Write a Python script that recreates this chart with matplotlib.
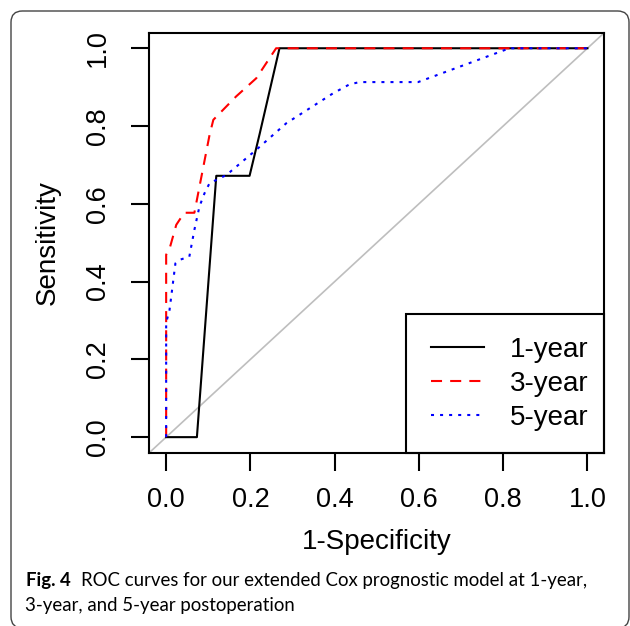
import matplotlib
matplotlib.use("Agg")
import matplotlib.pyplot as plt
from matplotlib.patches import FancyBboxPatch, Rectangle

# ROC points (1-specificity, sensitivity)
fpr_1y = [0.0, 0.073, 0.119, 0.198, 0.222, 0.269, 1.0]
tpr_1y = [0.0, 0.0, 0.672, 0.672, 0.78, 1.0, 1.0]

fpr_3y = [0.0, 0.0, 0.0095, 0.024, 0.043, 0.067, 0.103, 0.112, 0.166, 0.214, 0.261, 1.0]
tpr_3y = [0.0, 0.469, 0.49, 0.546, 0.577, 0.577, 0.777, 0.816, 0.876, 0.923, 1.0, 1.0]

fpr_5y = [0.0, 0.0, 0.008, 0.012, 0.022, 0.032, 0.055, 0.067, 0.079, 0.091, 0.103,
          0.143, 0.214, 0.285, 0.396, 0.435, 0.459, 0.598, 0.815, 1.0]
tpr_5y = [0.0, 0.294, 0.327, 0.361, 0.447, 0.456, 0.464, 0.533, 0.593, 0.627, 0.653,
          0.674, 0.739, 0.807, 0.884, 0.907, 0.913, 0.913, 1.0, 1.0]

labels = ["1-year", "3-year", "5-year"]
ticks = [0.0, 0.2, 0.4, 0.6, 0.8, 1.0]
caption_bold = "Fig. 4"
caption_1 = "ROC curves for our extended Cox prognostic model at 1-year,"
caption_2 = "3-year, and 5-year postoperation"

plt.rcParams["font.family"] = ["Liberation Sans", "DejaVu Sans"]

W, H = 630, 626
fig = plt.figure(figsize=(W / 100, H / 100), dpi=100)

# outer rounded box of the figure panel
box = FancyBboxPatch((11 / W, 1 - 628 / H), 618 / W, 617 / H,
                     boxstyle="round,pad=0,rounding_size=0.018",
                     transform=fig.transFigure, fill=False, ec="#444444", lw=1.0)
fig.patches.append(box)

ax = fig.add_axes([149.3 / W, 1 - 452.7 / H, 455 / W, 420 / H])

ax.axline((0, 0), slope=1, color="#BEBEBE", lw=1.2, zorder=1)
ax.plot(fpr_1y, tpr_1y, color="black", lw=1.5, label=labels[0], zorder=2)
ax.plot(fpr_3y, tpr_3y, color="red", lw=1.5, dashes=(5.3, 3.9), label=labels[1], zorder=3)
ax.plot(fpr_5y, tpr_5y, color="blue", lw=1.5, dashes=(1.45, 2.9), label=labels[2], zorder=4)

ax.set_xlim(-0.04, 1.04)
ax.set_ylim(-0.04, 1.04)
ax.set_xticks(ticks)
ax.set_yticks(ticks)
ax.set_xticklabels([f"{t:.1f}" for t in ticks])
ax.set_yticklabels([f"{t:.1f}" for t in ticks], rotation=90, va="center")
ax.tick_params(axis="both", length=12.8, width=1.5, labelsize=19.5)
ax.tick_params(axis="x", pad=12.2)
ax.tick_params(axis="y", pad=15)
for s in ax.spines.values():
    s.set_linewidth(1.5)

ax.set_xlabel("1-Specificity", fontsize=20, va="center")
ax.set_ylabel("Sensitivity", fontsize=20, va="center")
ax.xaxis.set_label_coords(0.5, (452.7 - 542) / 420)
ax.yaxis.set_label_coords((48 - 149.3) / 455, 0.5)

# legend with an R-style frame attached to the bottom right corner
ax.add_patch(Rectangle((0.5642, 0), 0.4358, 0.3295, transform=ax.transAxes,
                       fill=False, ec="black", lw=1.5, clip_on=False, zorder=5))
ax.legend(loc="upper left", bbox_to_anchor=(0.619, 0.2755), borderaxespad=0,
          borderpad=0, frameon=False, handlelength=1.9, handletextpad=0.94,
          labelspacing=0.29, fontsize=20)

# caption
cap_font = ["Lato", "DejaVu Sans"]
cap_size = 13.4
t1 = fig.text(26 / W, 1 - 586 / H, caption_bold, fontsize=cap_size, fontweight="bold",
              family=cap_font, va="baseline", ha="left")
fig.canvas.draw()
bb = t1.get_window_extent(fig.canvas.get_renderer())
fig.text((bb.x1 + 10.5) / W, 1 - 586 / H, caption_1, fontsize=cap_size,
         family=cap_font, va="baseline", ha="left")
fig.text(25 / W, 1 - 610.5 / H, caption_2, fontsize=cap_size,
         family=cap_font, va="baseline", ha="left")

fig.savefig("out.png", dpi=100)
